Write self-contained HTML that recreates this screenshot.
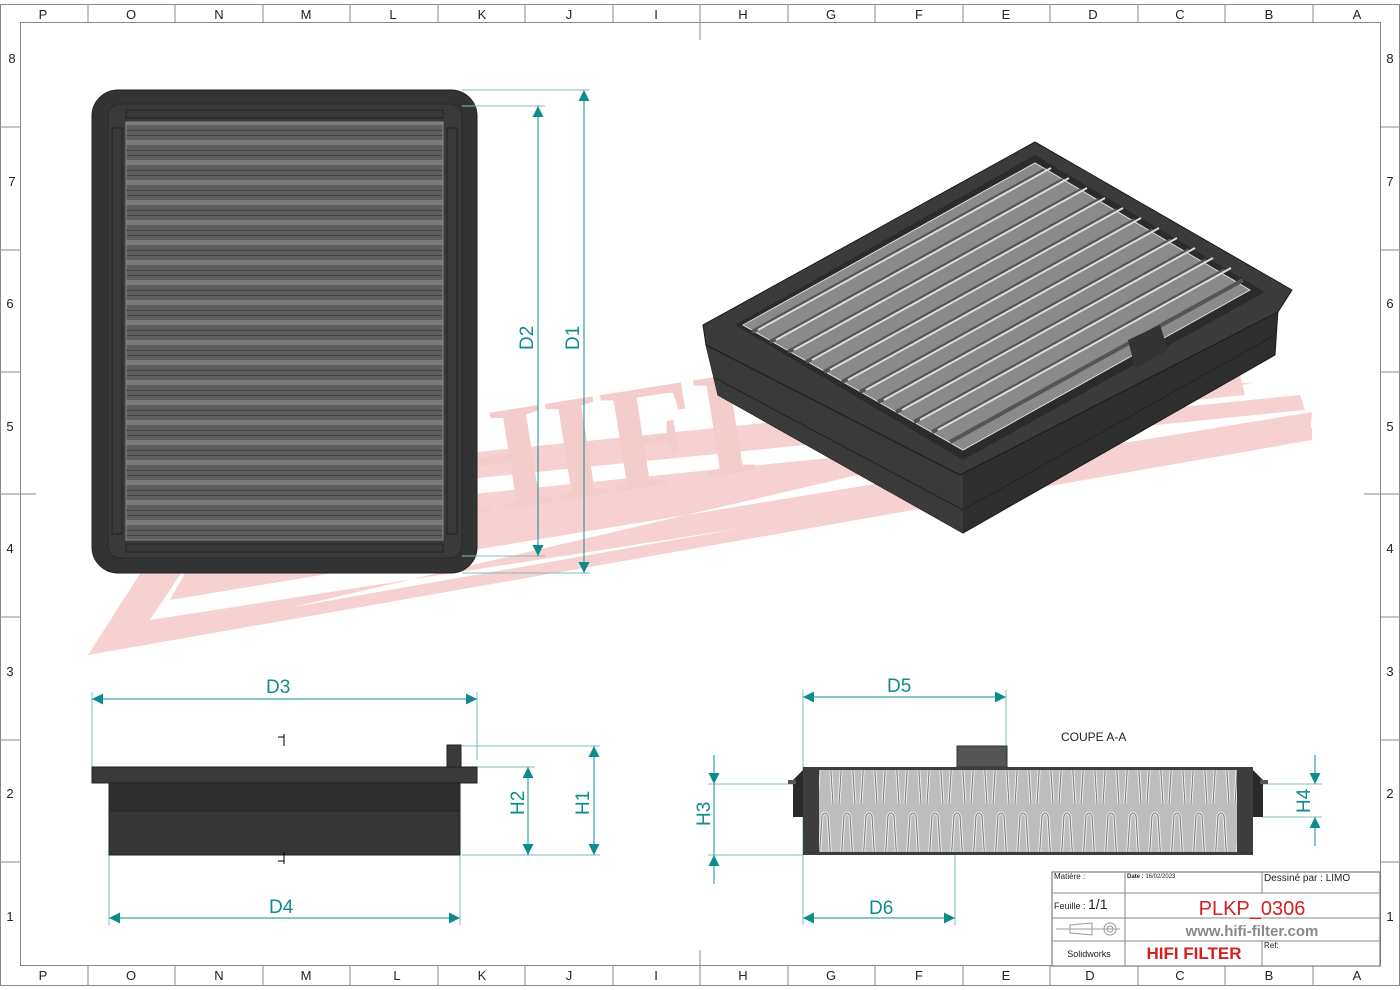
<!DOCTYPE html>
<html><head><meta charset="utf-8"><style>
html,body{margin:0;padding:0;background:#fff}
svg{display:block}
</style></head><body>
<svg width="1400" height="990" viewBox="0 0 1400 990" xmlns="http://www.w3.org/2000/svg" font-family="Liberation Sans, sans-serif">
<defs>
<marker id="ar" viewBox="0 0 10 10" refX="10" refY="5" markerWidth="20" markerHeight="11" markerUnits="userSpaceOnUse" orient="auto-start-reverse"><path d="M0,0 L10,5 L0,10 z" fill="#0e8c8c"/></marker>
<pattern id="pl" width="10" height="20" patternUnits="userSpaceOnUse"><rect width="10" height="20" fill="#5e5e5e"/><rect y="0" width="10" height="5" fill="#7a7a7a"/><rect y="10" width="10" height="1" fill="#444"/><rect y="15" width="10" height="1" fill="#444"/></pattern>
<pattern id="wv" width="22" height="90" patternUnits="userSpaceOnUse"><rect width="22" height="90" fill="#bdbdbd"/><path d="M3,84 L8,6 Q11,0 14,6 L19,84" fill="none" stroke="#eee" stroke-width="3"/><path d="M3,84 L8,6 Q11,0 14,6 L19,84" fill="none" stroke="#777" stroke-width="1"/></pattern>
</defs>
<!-- frame -->
<rect x="0.5" y="4.5" width="1399" height="981" fill="none" stroke="#888"/>
<rect x="20.5" y="22.5" width="1360" height="943" fill="none" stroke="#888"/>
<g stroke="#888">
<line x1="88" y1="4" x2="88" y2="22"/><line x1="175" y1="4" x2="175" y2="22"/><line x1="263" y1="4" x2="263" y2="22"/><line x1="350" y1="4" x2="350" y2="22"/><line x1="438" y1="4" x2="438" y2="22"/><line x1="525" y1="4" x2="525" y2="22"/><line x1="613" y1="4" x2="613" y2="22"/><line x1="700" y1="4" x2="700" y2="40"/><line x1="788" y1="4" x2="788" y2="22"/><line x1="875" y1="4" x2="875" y2="22"/><line x1="963" y1="4" x2="963" y2="22"/><line x1="1050" y1="4" x2="1050" y2="22"/><line x1="1138" y1="4" x2="1138" y2="22"/><line x1="1225" y1="4" x2="1225" y2="22"/><line x1="1313" y1="4" x2="1313" y2="22"/>
<line x1="88" y1="966" x2="88" y2="986"/><line x1="175" y1="966" x2="175" y2="986"/><line x1="263" y1="966" x2="263" y2="986"/><line x1="350" y1="966" x2="350" y2="986"/><line x1="438" y1="966" x2="438" y2="986"/><line x1="525" y1="966" x2="525" y2="986"/><line x1="613" y1="966" x2="613" y2="986"/><line x1="700" y1="950" x2="700" y2="986"/><line x1="788" y1="966" x2="788" y2="986"/><line x1="875" y1="966" x2="875" y2="986"/><line x1="963" y1="966" x2="963" y2="986"/><line x1="1050" y1="966" x2="1050" y2="986"/><line x1="1138" y1="966" x2="1138" y2="986"/><line x1="1225" y1="966" x2="1225" y2="986"/><line x1="1313" y1="966" x2="1313" y2="986"/>
<line x1="0" y1="127" x2="20" y2="127"/><line x1="0" y1="250" x2="20" y2="250"/><line x1="0" y1="372" x2="20" y2="372"/><line x1="0" y1="494" x2="36" y2="494"/><line x1="0" y1="617" x2="20" y2="617"/><line x1="0" y1="740" x2="20" y2="740"/><line x1="0" y1="862" x2="20" y2="862"/>
<line x1="1380" y1="127" x2="1400" y2="127"/><line x1="1380" y1="250" x2="1400" y2="250"/><line x1="1380" y1="372" x2="1400" y2="372"/><line x1="1364" y1="494" x2="1400" y2="494"/><line x1="1380" y1="617" x2="1400" y2="617"/><line x1="1380" y1="740" x2="1400" y2="740"/><line x1="1380" y1="862" x2="1400" y2="862"/>
</g>
<g font-size="13" fill="#222" text-anchor="middle">
<text x="43" y="19">P</text><text x="131" y="19">O</text><text x="219" y="19">N</text><text x="306" y="19">M</text><text x="393" y="19">L</text><text x="482" y="19">K</text><text x="569" y="19">J</text><text x="656" y="19">I</text><text x="743" y="19">H</text><text x="831" y="19">G</text><text x="919" y="19">F</text><text x="1006" y="19">E</text><text x="1093" y="19">D</text><text x="1180" y="19">C</text><text x="1269" y="19">B</text><text x="1357" y="19">A</text>
<text x="43" y="980">P</text><text x="131" y="980">O</text><text x="219" y="980">N</text><text x="306" y="980">M</text><text x="397" y="980">L</text><text x="482" y="980">K</text><text x="569" y="980">J</text><text x="656" y="980">I</text><text x="743" y="980">H</text><text x="831" y="980">G</text><text x="919" y="980">F</text><text x="1006" y="980">E</text><text x="1090" y="980">D</text><text x="1180" y="980">C</text><text x="1269" y="980">B</text><text x="1357" y="980">A</text>
<text x="12" y="63">8</text><text x="12" y="186">7</text><text x="10" y="308">6</text><text x="10" y="431">5</text><text x="10" y="553">4</text><text x="10" y="676">3</text><text x="10" y="798">2</text><text x="10" y="921">1</text>
<text x="1390" y="63">8</text><text x="1390" y="186">7</text><text x="1390" y="308">6</text><text x="1390" y="431">5</text><text x="1390" y="553">4</text><text x="1390" y="676">3</text><text x="1390" y="798">2</text><text x="1390" y="921">1</text>
</g>
<!-- watermark -->
<g fill="#f6c9c9" opacity="0.85">
<polygon points="88,655 200,480 1240,375 1245,395 230,500 150,620 1310,440 1312,412 170,600 215,520 1305,410 1300,395 210,505 240,478 1255,382"/>
<polygon points="88,655 1312,440 1312,428 105,640"/>
<text x="0" y="0" style="font-family:'Liberation Serif',serif;font-weight:bold" font-size="150" transform="translate(440,520) rotate(-9)" fill="#f4c4c4">HIFI</text>
</g>
<!-- front view -->
<rect x="92" y="90" width="385" height="483" rx="26" fill="#333" stroke="#222"/>
<rect x="108" y="104" width="354" height="454" rx="12" fill="#3a3a3a" stroke="#2a2a2a"/>
<rect x="126" y="122" width="317" height="418" fill="url(#pl)" stroke="#888"/>
<g fill="none" stroke="#222">
<rect x="126" y="110" width="317" height="8"/><rect x="126" y="544" width="317" height="8"/>
<rect x="112" y="128" width="10" height="406"/><rect x="447" y="128" width="10" height="406"/>
</g>
<!-- dims front -->
<g stroke="#7fbcbc" stroke-width="1">
<line x1="462" y1="106" x2="545" y2="106"/><line x1="462" y1="556" x2="545" y2="556"/>
<line x1="462" y1="90" x2="590" y2="90"/><line x1="462" y1="573" x2="590" y2="573"/>
</g>
<g stroke="#0e8c8c" stroke-width="1">
<line x1="538" y1="106" x2="538" y2="556" marker-start="url(#ar)" marker-end="url(#ar)"/>
<line x1="584" y1="90" x2="584" y2="573" marker-start="url(#ar)" marker-end="url(#ar)"/>
</g>
<g fill="#0e8c8c" font-size="19">
<text transform="translate(533,350) rotate(-90)">D2</text>
<text transform="translate(579,350) rotate(-90)">D1</text>
</g>
<!-- iso view -->
<polygon points="706,345 718,395 963,533 1275,355 1278,310 963,470" fill="#2e2e2e" stroke="#1a1a1a"/>
<polygon points="706,345 963,470 963,533 718,395" fill="#3a3a3a"/>
<line x1="715" y1="378" x2="963" y2="510" stroke="#222"/><line x1="963" y1="510" x2="1275" y2="335" stroke="#222"/>
<polygon points="703,325 1035,142 1292,290 1278,312 960,475 706,345" fill="#3b3b3b" stroke="#1a1a1a"/>
<polygon points="735,325 1035,155 1265,292 963,460" fill="#2b2b2b"/>
<polygon points="743,325 1035,163 1250,290 963,450" fill="#8a8a8a" stroke="#ddd"/>
<g stroke="#555" stroke-width="4">
<line x1="752" y1="332" x2="1045" y2="170"/><line x1="770" y1="342" x2="1063" y2="180"/><line x1="788" y1="352" x2="1081" y2="190"/><line x1="806" y1="362" x2="1099" y2="200"/><line x1="824" y1="372" x2="1117" y2="210"/><line x1="842" y1="382" x2="1135" y2="220"/><line x1="860" y1="392" x2="1153" y2="230"/><line x1="878" y1="402" x2="1171" y2="240"/><line x1="896" y1="412" x2="1189" y2="250"/><line x1="914" y1="422" x2="1207" y2="260"/><line x1="932" y1="432" x2="1225" y2="270"/><line x1="950" y1="442" x2="1243" y2="280"/>
</g>
<g stroke="#ddd" stroke-width="2">
<line x1="758" y1="330" x2="1051" y2="168"/><line x1="776" y1="340" x2="1069" y2="178"/><line x1="794" y1="350" x2="1087" y2="188"/><line x1="812" y1="360" x2="1105" y2="198"/><line x1="830" y1="370" x2="1123" y2="208"/><line x1="848" y1="380" x2="1141" y2="218"/><line x1="866" y1="390" x2="1159" y2="228"/><line x1="884" y1="400" x2="1177" y2="238"/><line x1="902" y1="410" x2="1195" y2="248"/><line x1="920" y1="420" x2="1213" y2="258"/><line x1="938" y1="430" x2="1231" y2="268"/>
</g>
<polygon points="1128,340 1160,325 1168,350 1135,368" fill="#333"/>
<!-- side view left -->
<g stroke="#7fbcbc">
<line x1="92" y1="692" x2="92" y2="780"/><line x1="477" y1="692" x2="477" y2="760"/>
<line x1="109" y1="855" x2="109" y2="925"/><line x1="460" y1="855" x2="460" y2="925"/>
<line x1="462" y1="767" x2="535" y2="767"/><line x1="462" y1="855" x2="600" y2="855"/>
<line x1="462" y1="746" x2="600" y2="746"/>
</g>
<rect x="92" y="767" width="385" height="16" fill="#3a3a3a" stroke="#222"/>
<rect x="109" y="783" width="351" height="28" fill="#2e2e2e" stroke="#222"/>
<rect x="109" y="811" width="351" height="44" fill="#363636" stroke="#222"/>
<rect x="447" y="745" width="14" height="22" fill="#3a3a3a" stroke="#222"/>
<g stroke="#0e8c8c">
<line x1="92" y1="699" x2="477" y2="699" marker-start="url(#ar)" marker-end="url(#ar)"/>
<line x1="109" y1="918" x2="460" y2="918" marker-start="url(#ar)" marker-end="url(#ar)"/>
<line x1="528" y1="767" x2="528" y2="855" marker-start="url(#ar)" marker-end="url(#ar)"/>
<line x1="594" y1="746" x2="594" y2="855" marker-start="url(#ar)" marker-end="url(#ar)"/>
</g>
<g fill="#0e8c8c" font-size="19">
<text x="266" y="693">D3</text><text x="269" y="913">D4</text>
<text transform="translate(524,815) rotate(-90)">H2</text>
<text transform="translate(589,815) rotate(-90)">H1</text>
</g>
<g stroke="#000"><line x1="284" y1="734" x2="284" y2="746"/><line x1="278" y1="737" x2="284" y2="737"/><line x1="284" y1="852" x2="284" y2="864"/><line x1="278" y1="861" x2="284" y2="861"/></g>
<!-- section view -->
<text x="1061" y="741" font-size="12" fill="#222">COUPE A-A</text>
<g stroke="#7fbcbc">
<line x1="803" y1="690" x2="803" y2="925"/><line x1="1006" y1="690" x2="1006" y2="745"/>
<line x1="955" y1="855" x2="955" y2="925"/>
<line x1="708" y1="784" x2="795" y2="784"/><line x1="708" y1="855" x2="803" y2="855"/>
<line x1="1262" y1="784" x2="1322" y2="784"/><line x1="1262" y1="817" x2="1322" y2="817"/>
</g>
<rect x="957" y="746" width="50" height="21" fill="#555" stroke="#333"/>
<rect x="803" y="767" width="450" height="88" fill="#3d3d3d"/>
<rect x="819" y="770" width="418" height="82" fill="url(#wv)"/>
<polygon points="793,780 803,770 803,817 793,817" fill="#2a2a2a"/>
<polygon points="1263,780 1253,770 1253,817 1263,817" fill="#2a2a2a"/>
<rect x="788" y="780" width="8" height="4" fill="#555"/><rect x="1260" y="780" width="8" height="4" fill="#555"/>
<g stroke="#0e8c8c">
<line x1="803" y1="697" x2="1006" y2="697" marker-start="url(#ar)" marker-end="url(#ar)"/>
<line x1="803" y1="918" x2="955" y2="918" marker-start="url(#ar)" marker-end="url(#ar)"/>
<line x1="714" y1="755" x2="714" y2="784" marker-end="url(#ar)"/>
<line x1="714" y1="884" x2="714" y2="855" marker-end="url(#ar)"/>
<line x1="714" y1="784" x2="714" y2="855"/>
<line x1="1315" y1="755" x2="1315" y2="784" marker-end="url(#ar)"/>
<line x1="1315" y1="846" x2="1315" y2="817" marker-end="url(#ar)"/>
</g>
<g fill="#0e8c8c" font-size="19">
<text x="887" y="692">D5</text><text x="869" y="914">D6</text>
<text transform="translate(710,826) rotate(-90)">H3</text>
<text transform="translate(1310,813) rotate(-90)">H4</text>
</g>
<!-- title block -->
<rect x="1052" y="872" width="328" height="94" fill="#fff" stroke="#666"/>
<g stroke="#888">
<line x1="1052" y1="893" x2="1380" y2="893"/><line x1="1052" y1="918" x2="1380" y2="918"/><line x1="1052" y1="941" x2="1380" y2="941"/>
<line x1="1125" y1="872" x2="1125" y2="966"/><line x1="1262" y1="872" x2="1262" y2="893"/><line x1="1262" y1="941" x2="1262" y2="966"/>
</g>
<text x="1054" y="879" font-size="8" fill="#222">Matière :</text>
<text x="1127" y="878" font-size="6" fill="#222"><tspan font-weight="bold">Date :</tspan> 16/02/2023</text>
<text x="1264" y="881" font-size="10" fill="#222">Dessiné par : LIMO</text>
<text x="1054" y="909" font-size="9" fill="#222">Feuille : <tspan font-size="14">1/1</tspan></text>
<text x="1252" y="915" font-size="20" fill="#d42020" text-anchor="middle">PLKP_0306</text>
<text x="1252" y="936" font-size="15" font-weight="bold" fill="#888" text-anchor="middle">www.hifi-filter.com</text>
<text x="1089" y="957" font-size="9" fill="#222" text-anchor="middle">Solidworks</text>
<text x="1194" y="959" font-size="17" font-weight="bold" fill="#d42020" text-anchor="middle">HIFI FILTER</text>
<text x="1264" y="948" font-size="8" fill="#222">Ref:</text>
<g stroke="#999" fill="none"><line x1="1056" y1="929" x2="1120" y2="929"/><polygon points="1070,925 1092,923 1092,935 1070,933"/><circle cx="1110" cy="929" r="6"/><circle cx="1110" cy="929" r="3"/></g>
</svg>
</body></html>
